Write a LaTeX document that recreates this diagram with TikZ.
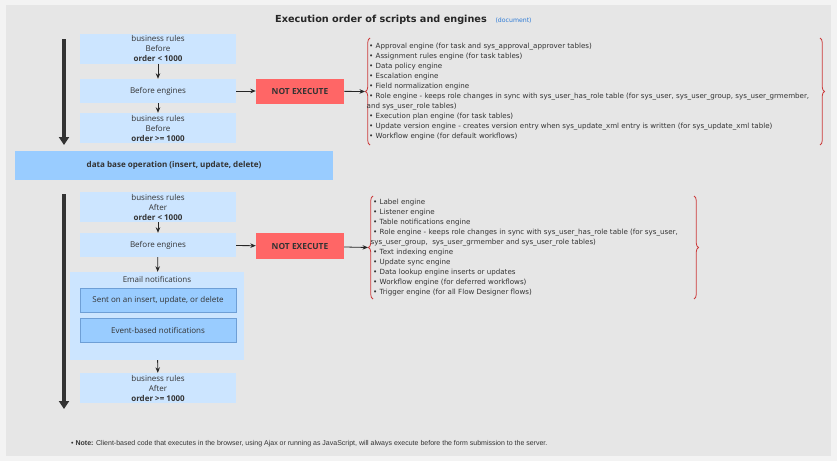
\documentclass[tikz,border=0pt]{standalone}
\usepackage{fontspec}
\setmainfont{DejaVu Sans}
\newfontfamily\boxfont{Open Sans}
\newfontfamily\listfont{DejaVu Sans}
\newfontfamily\notefont{Liberation Sans}
\usetikzlibrary{arrows.meta,decorations.pathreplacing}
\definecolor{bgc}{HTML}{E6E6E6}
\definecolor{frame}{HTML}{F3F3F3}
\definecolor{lb}{HTML}{CCE5FF}
\definecolor{mb}{HTML}{99CCFF}
\definecolor{mbd}{HTML}{6E9FD6}
\definecolor{redbox}{HTML}{FF6666}
\definecolor{bracec}{HTML}{CC3A3A}
\definecolor{txt}{HTML}{333333}
\definecolor{linkc}{HTML}{2E7BD6}
\tikzset{
  bbox/.style={fill=lb, minimum width=156, minimum height=30, align=center, inner sep=0,
    font=\boxfont\fontsize{8}{10}\selectfont, text=txt},
  inbox/.style={fill=mb, draw=mbd, line width=0.6, minimum width=156, minimum height=24, inner sep=0,
    font=\boxfont\fontsize{8}{10}\selectfont, text=txt},
  nebox/.style={fill=redbox, minimum width=88, minimum height=25, inner sep=0,
    font=\boxfont\bfseries\fontsize{8.4}{10}\selectfont, text=black!80},
  listtxt/.style={anchor=west, align=left, inner sep=0,
    font=\listfont\fontsize{7.1}{10}\selectfont, text=txt},
  bigarrow/.style={line width=3.2, draw=txt, -{Triangle[width=10,length=8]}},
  smallarrow/.style={line width=0.8, draw=black!85, -{Stealth[width=4.5,length=5.5]}},
  bracedeco/.style={draw=bracec, line width=0.8, decorate, decoration={brace, amplitude=4.5}}
}
\begin{document}
\begin{tikzpicture}[x=1pt,y=-1pt]
\useasboundingbox (0,0) rectangle (837,461);
\fill[frame] (0,0) rectangle (837,461);
\fill[bgc] (6,5) rectangle (831,456);

% title
\node[font=\bfseries\fontsize{9.7}{12}\selectfont, text=black!85] (title) at (381,19.5) {Execution order of scripts and engines};
\node[font=\fontsize{6.2}{7}\selectfont, text=linkc, anchor=west] (doc) at (492,20.5) {(document)};

% upper section
\coordinate (ua1) at (64,39);
\coordinate (ua2) at (64,145);
\draw[bigarrow] (ua1) -- (ua2);

\node[bbox] (b1) at (158,48.5) {business rules\\Before\\\textbf{order < 1000}};
\node[bbox, minimum height=24] (b2) at (158,91) {Before engines};
\node[bbox] (b3) at (158,128) {business rules\\Before\\\textbf{order >= 1000}};
\draw[smallarrow] (b1) -- (b2);
\draw[smallarrow] (b2) -- (b3);

\node[nebox] (ne1) at (300,91) {NOT EXECUTE};
\draw[smallarrow] (b2) -- (ne1);

\coordinate (br1t) at (370,38);
\coordinate (br1b) at (370,145);
\coordinate (br1r1) at (820,38);
\coordinate (br1r2) at (820,145);
\draw[bracedeco] (br1b) -- (br1t);
\draw[bracedeco] (br1r1) -- (br1r2);
\coordinate (tip1) at (365,91.5);
\draw[smallarrow] (ne1) -- (tip1);

\node[listtxt] (list1) at (369,92) {%
• Approval engine (for task and sys\_approval\_approver tables)\\
• Assignment rules engine (for task tables)\\
• Data policy engine\\
• Escalation engine\\
• Field normalization engine\\
• Role engine - keeps role changes in sync with sys\_user\_has\_role table (for sys\_user, sys\_user\_group, sys\_user\_grmember,\\
\hspace*{-2.5pt}and sys\_user\_role tables)\\
• Execution plan engine (for task tables)\\
• Update version engine - creates version entry when sys\_update\_xml entry is written (for sys\_update\_xml table)\\
• Workflow engine (for default workflows)};

% database bar
\node[fill=mb, minimum width=318, minimum height=29, inner sep=0,
  font=\boxfont\bfseries\fontsize{8.05}{10}\selectfont, text=txt] (db) at (174,165.5)
  {data base operation (insert, update, delete)};

% lower section
\coordinate (la1) at (64,194);
\coordinate (la2) at (64,409);
\draw[bigarrow] (la1) -- (la2);

\node[bbox] (b4) at (158,207) {business rules\\After\\\textbf{order < 1000}};
\node[bbox, minimum height=24] (b5) at (158,245) {Before engines};
\draw[smallarrow] (b4) -- (b5);

\node[fill=lb, minimum width=174, minimum height=88, inner sep=0] (email) at (157,316) {};
\node[font=\boxfont\fontsize{8}{10}\selectfont, text=txt, inner sep=0] (emailt) at (157,279.5) {Email notifications};
\node[inbox] (in1) at (158,300) {Sent on an insert, update, or delete};
\node[inbox] (in2) at (158,330) {Event-based notifications};
\draw[smallarrow] (b5) -- (email);

\node[bbox] (b6) at (158,388) {business rules\\After\\\textbf{order >= 1000}};
\draw[smallarrow] (email) -- (b6);

\node[nebox, minimum height=26] (ne2) at (300,246) {NOT EXECUTE};
\draw[smallarrow] (b5) -- (ne2);

\coordinate (br2t) at (373,196);
\coordinate (br2b) at (373,299);
\coordinate (br2r1) at (694,196);
\coordinate (br2r2) at (694,299);
\draw[bracedeco] (br2b) -- (br2t);
\draw[bracedeco] (br2r1) -- (br2r2);
\coordinate (tip2) at (368,247.5);
\draw[smallarrow] (ne2) -- (tip2);

\node[listtxt] (list2) at (373,248) {%
• Label engine\\
• Listener engine\\
• Table notifications engine\\
• Role engine - keeps role changes in sync with sys\_user\_has\_role table (for sys\_user,\\
\hspace*{-2.5pt}sys\_user\_group,\ \ sys\_user\_grmember and sys\_user\_role tables)\\
• Text indexing engine\\
• Update sync engine\\
• Data lookup engine inserts or updates\\
• Workflow engine (for deferred workflows)\\
• Trigger engine (for all Flow Designer flows)};

% note
\node[anchor=west, inner sep=0, font=\notefont\fontsize{7}{8}\selectfont, text=txt] (note) at (71,444)
  {• \textbf{Note:} Client-based code that executes in the browser, using Ajax or running as JavaScript, will always execute before the form submission to the server.};
\end{tikzpicture}
\end{document}
